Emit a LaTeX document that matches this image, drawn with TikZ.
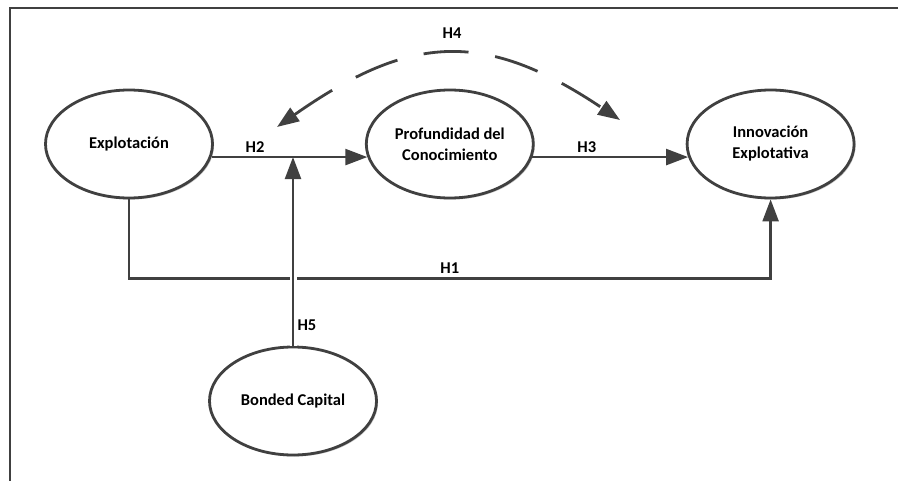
\documentclass[tikz,border=0pt]{standalone}
\usepackage{fontspec}
\setmainfont{Carlito}
\usetikzlibrary{arrows.meta,positioning,shapes.geometric,shadows}
\definecolor{linegray}{HTML}{404040}
\tikzset{
var/.style = {ellipse, draw=linegray, line width=2.8pt, fill=white,
              minimum width=167pt, minimum height=108pt, inner sep=0pt, align=center,
              font=\bfseries\fontsize{16.5}{21}\selectfont,
              drop shadow={shadow xshift=1.5pt, shadow yshift=-1.5pt, fill=black!22, opacity=1}},
rel/.style = {draw=linegray, line width=2.4pt, -{Triangle[length=22pt,width=16pt]}},
hyp/.style = {font=\bfseries\fontsize{16.5}{18}\selectfont, text=black},
}

\begin{document}
\begin{tikzpicture}[x=1pt, y=-1pt]
		\fill[white] (0,0) rectangle (899,481);
		\useasboundingbox (0,0) rectangle (899,481);
		\draw[linegray, line width=2.6pt] (898,8) -- (10,8) -- (10,481);
		
		\node[var] (1) at (129,144) {Explotación};
		\node[var, right=151pt of 1] (2) {Profundidad del\\Conocimiento};
		\node[var, right=151pt of 2] (3) {Innovación\\Explotativa};
		\node[var] (4) at (293,401) {Bonded Capital};
		
		\coordinate (h4a) at (277,127);
		\coordinate (h4b) at (620,120);
		
		\draw[rel] (1.south) |- node[hyp, above, pos=0.75] {H1} ([yshift=-79pt]3.south) -- (3.south);
		\draw[rel, preaction={draw=white, line width=7pt, -}] (4.north) -- node[hyp, right, pos=0.11] {H5} (4.north |- 1.-9);
		\draw[rel] (1.-9) -- node[hyp, above, pos=0.28] {H2} (2.189);
		\draw[rel] (2.-9) -- node[hyp, above, pos=0.35] {H3} (3.189);
		\draw[rel, line width=2.8pt, dash pattern=on 45pt off 27pt,
		      arrows={Triangle[length=22pt,width=16pt]-Triangle[length=22pt,width=16pt]}]
		      (h4a) .. controls (411,33) and (486,30) .. (h4b);
		\node[hyp] (h4) at (452,33) {H4};
		\end{tikzpicture}
\end{document}
